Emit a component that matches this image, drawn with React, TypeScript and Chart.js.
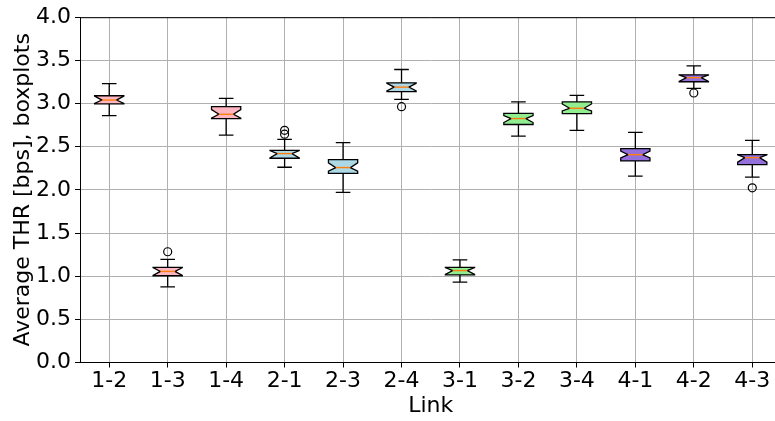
import React, { useEffect, useRef } from 'react';
import { Chart, registerables } from 'chart.js';

Chart.register(...registerables);

const categories = ['1-2', '1-3', '1-4', '2-1', '2-3', '2-4', '3-1', '3-2', '3-4', '4-1', '4-2', '4-3'];
const whiskerLow = [2.86, 0.875, 2.634, 2.262, 1.97, 3.048, 0.93, 2.622, 2.688, 2.158, 3.175, 2.147];
const quartile1 = [2.995, 1.005, 2.826, 2.366, 2.19, 3.137, 1.015, 2.757, 2.883, 2.335, 3.252, 2.293];
const medians = [3.04, 1.055, 2.875, 2.42, 2.258, 3.19, 1.065, 2.826, 2.945, 2.408, 3.3, 2.373];
const quartile3 = [3.09, 1.103, 2.963, 2.457, 2.35, 3.24, 1.103, 2.887, 3.018, 2.477, 3.332, 2.407];
const whiskerHigh = [3.23, 1.195, 3.06, 2.584, 2.546, 3.394, 1.188, 3.02, 3.094, 2.665, 3.436, 2.573];
const notchLow = [3.0, 1.01, 2.83, 2.37, 2.216, 3.145, 1.02, 2.78, 2.915, 2.37, 3.255, 2.32];
const notchHigh = [3.085, 1.1, 2.93, 2.455, 2.312, 3.235, 1.1, 2.86, 2.995, 2.45, 3.33, 2.405];
const boxColors = [
  '#ffb6c1', '#ffb6c1', '#ffb6c1',
  '#add8e6', '#add8e6', '#add8e6',
  '#90ee90', '#90ee90', '#90ee90',
  '#9370db', '#9370db', '#9370db',
];
const outlierLinks = ['1-3', '2-1', '2-1', '2-4', '4-2', '4-3'];
const outlierValues = [1.283, 2.69, 2.645, 2.964, 3.122, 2.024];

const FONT = 'DejaVu Sans';

const boxPlugin = {
  id: 'notchedBoxes',
  afterDatasetsDraw(chart: any) {
    const { ctx, scales, chartArea } = chart;
    const xs = scales.x;
    const ys = scales.y;
    const step = xs.getPixelForValue(1) - xs.getPixelForValue(0);
    const hw = step * 0.25;
    ctx.save();
    for (let i = 0; i < categories.length; i++) {
      const x = xs.getPixelForValue(i);
      const left = x - hw;
      const right = x + hw;
      const capL = x - hw / 2;
      const capR = x + hw / 2;
      const yq1 = ys.getPixelForValue(quartile1[i]);
      const yq3 = ys.getPixelForValue(quartile3[i]);
      const ymed = ys.getPixelForValue(medians[i]);
      const ynlo = ys.getPixelForValue(notchLow[i]);
      const ynhi = ys.getPixelForValue(notchHigh[i]);
      const ywl = ys.getPixelForValue(whiskerLow[i]);
      const ywh = ys.getPixelForValue(whiskerHigh[i]);
      ctx.strokeStyle = '#000';
      ctx.lineWidth = 1.3;
      ctx.beginPath();
      ctx.moveTo(x, yq1);
      ctx.lineTo(x, ywl);
      ctx.moveTo(x, yq3);
      ctx.lineTo(x, ywh);
      ctx.moveTo(capL, ywl);
      ctx.lineTo(capR, ywl);
      ctx.moveTo(capL, ywh);
      ctx.lineTo(capR, ywh);
      ctx.stroke();
      ctx.beginPath();
      ctx.moveTo(left, yq1);
      ctx.lineTo(right, yq1);
      ctx.lineTo(right, ynlo);
      ctx.lineTo(capR, ymed);
      ctx.lineTo(right, ynhi);
      ctx.lineTo(right, yq3);
      ctx.lineTo(left, yq3);
      ctx.lineTo(left, ynhi);
      ctx.lineTo(capL, ymed);
      ctx.lineTo(left, ynlo);
      ctx.closePath();
      ctx.fillStyle = boxColors[i];
      ctx.fill();
      ctx.stroke();
      ctx.beginPath();
      ctx.strokeStyle = '#ff7f0e';
      ctx.lineWidth = 1.4;
      ctx.moveTo(capL, ymed);
      ctx.lineTo(capR, ymed);
      ctx.stroke();
    }
    ctx.beginPath();
    ctx.strokeStyle = '#000';
    ctx.lineWidth = 1;
    ctx.moveTo(chartArea.left, chartArea.top + 0.5);
    ctx.lineTo(chartArea.right, chartArea.top + 0.5);
    ctx.stroke();
    ctx.restore();
  },
};

export default function App() {
  const ref = useRef<HTMLCanvasElement | null>(null);
  useEffect(() => {
    if (!ref.current) return;
    const chart = new Chart(ref.current, {
      type: 'line',
      data: {
        labels: categories,
        datasets: [
          {
            label: 'outliers',
            data: outlierLinks.map((l, i) => ({ x: l, y: outlierValues[i] })),
            showLine: false,
            pointRadius: 4,
            pointBorderWidth: 1.2,
            pointBorderColor: '#000',
            pointBackgroundColor: 'rgba(0,0,0,0)',
          },
        ],
      },
      options: {
        responsive: false,
        animation: false,
        layout: { padding: { top: 15, right: 8.5, left: 0, bottom: 0 } },
        plugins: { legend: { display: false }, tooltip: { enabled: false } },
        scales: {
          x: {
            type: 'category',
            offset: true,
            grid: { offset: false, color: '#b0b0b0', lineWidth: 1, tickLength: 5, tickColor: '#000', tickWidth: 1 },
            border: { color: '#000', width: 1 },
            ticks: { color: '#000', font: { family: FONT, size: 22 }, padding: 1, maxRotation: 0 },
            title: { display: true, text: 'Link', color: '#000', font: { family: FONT, size: 22 }, padding: { top: 0, bottom: 2 } },
            afterFit: (s: any) => { s.height = 421 - 362.5; },
          },
          y: {
            min: 0,
            max: 4,
            ticks: { stepSize: 0.5, color: '#000', font: { family: FONT, size: 22 }, padding: 4, callback: (v: any) => Number(v).toFixed(1) },
            grid: { color: '#b0b0b0', lineWidth: 1, tickLength: 5, tickColor: '#000', tickWidth: 1 },
            border: { color: '#000', width: 1 },
            title: { display: true, text: 'Average THR [bps], boxplots', color: '#000', font: { family: FONT, size: 22 }, padding: { top: 10, bottom: 0 } },
            afterFit: (s: any) => { s.width = 80; },
          },
        },
      },
      plugins: [boxPlugin],
    });
    return () => chart.destroy();
  }, []);
  return (
    <div style={{ position: 'fixed', left: 0, top: 0, width: 775, height: 421, overflow: 'hidden', background: '#fff' }}>
      <canvas ref={ref} width={790} height={421} style={{ display: 'block' }} />
    </div>
  );
}
